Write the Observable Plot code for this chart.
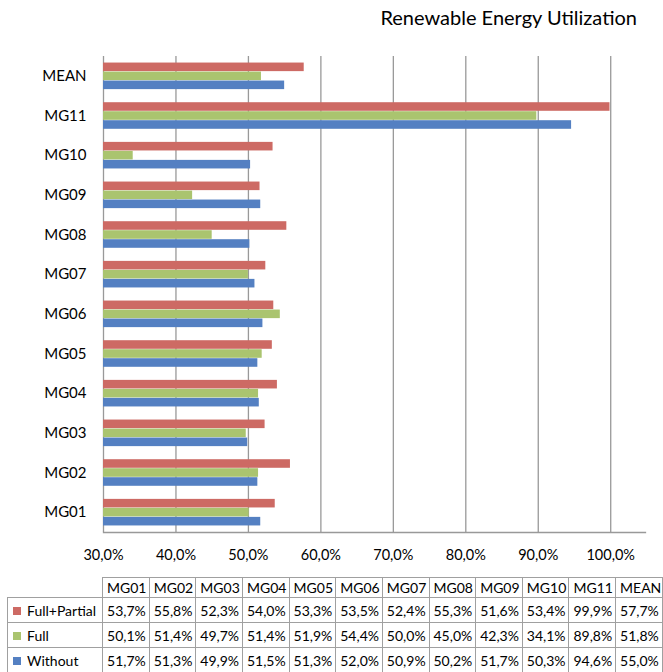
<!DOCTYPE html>
<html>
<head>
<meta charset="utf-8">
<script src="https://cdn.jsdelivr.net/npm/d3@7"></script>
<script src="https://cdn.jsdelivr.net/npm/@observablehq/plot@0.6"></script>
<style>
  html, body { margin: 0; padding: 0; background: #fff; }
  #wrap { position: relative; width: 663px; height: 672px; overflow: hidden; font-family: Lato, "DejaVu Sans", sans-serif; }
  #title { position: absolute; top: 5px; right: 26px; font-size: 20px; color: #000; white-space: nowrap; }
  #chart { position: absolute; top: 0; left: 0; }
  #tbl { position: absolute; top: 577px; left: 7px; border-collapse: collapse; font-size: 14px; color: #000; table-layout: fixed; }
  #tbl td { border: 1px solid #a0a0a0; padding: 0 0 0 4px; white-space: nowrap; overflow: hidden; }
  #tbl tr.head td { height: 19px; }
  #tbl tr.row td { height: 24px; }
  #tbl td.blank { border: none; }
  .sw { display: inline-block; width: 8px; height: 8px; margin-right: 6px; margin-left: 1px; vertical-align: 1px; }
</style>
</head>
<body>
<div id="wrap">
  <div id="chart"></div>
  <div id="title">Renewable Energy Utilization</div>
  <table id="tbl"></table>
</div>
<script>
const categories = ["MG01","MG02","MG03","MG04","MG05","MG06","MG07","MG08","MG09","MG10","MG11","MEAN"];
const seriesNames = ["Full+Partial","Full","Without"];
const fullPartial = [53.7,55.8,52.3,54.0,53.3,53.5,52.4,55.3,51.6,53.4,99.9,57.7];
const full        = [50.1,51.4,49.7,51.4,51.9,54.4,50.0,45.0,42.3,34.1,89.8,51.8];
const without     = [51.7,51.3,49.9,51.5,51.3,52.0,50.9,50.2,51.7,50.3,94.6,55.0];
const xTicks = [30,40,50,60,70,80,90,100];
const seriesColors = ["#CD6A64","#AAC46F","#5480C2"];

const seriesValues = [fullPartial, full, without];
const fmt = v => v.toFixed(1).replace(".", ",") + "%";
const xMin = xTicks[0];

const data = [];
seriesNames.forEach((s, si) => categories.forEach((c, ci) => data.push({series: s, category: c, value: seriesValues[si][ci]})));

const bandInsets = [[0, 18], [9, 9], [18, 0]];

const chart = Plot.plot({
  width: 663,
  height: 570,
  marginLeft: 103,
  marginRight: 18,
  marginTop: 56,
  marginBottom: 38,
  style: {fontFamily: "Lato, 'DejaVu Sans', sans-serif", fontSize: "14.5px", color: "#000", background: "#fff"},
  x: {domain: [30, 104.8], ticks: xTicks, tickFormat: fmt, tickSize: 0, tickPadding: 17, label: null},
  y: {domain: categories.slice().reverse(), paddingInner: 0.33, paddingOuter: 0.165, round: false, tickSize: 0, tickPadding: 17, label: null},
  marks: [
    Plot.ruleX(xTicks, {stroke: "#999", strokeWidth: 1.3}),
    Plot.frame({anchor: "bottom", stroke: "#999", strokeWidth: 1.3}),
    ...seriesNames.map((s, si) => Plot.barX(data.filter(d => d.series === s), {
      y: "category",
      x1: xMin,
      x2: "value",
      fill: seriesColors[si],
      insetTop: bandInsets[si][0],
      insetBottom: bandInsets[si][1]
    }))
  ]
});
chart.querySelectorAll('g[aria-label="y-axis tick label"]').forEach(el => el.style.fontSize = "15px");
document.getElementById("chart").appendChild(chart);

// table
const tbl = document.getElementById("tbl");
const colgroup = document.createElement("colgroup");
const c0 = document.createElement("col"); c0.style.width = "96px"; colgroup.appendChild(c0);
categories.forEach(() => { const c = document.createElement("col"); c.style.width = "47px"; colgroup.appendChild(c); });
tbl.appendChild(colgroup);
const head = document.createElement("tr"); head.className = "head";
const blank = document.createElement("td"); blank.className = "blank"; head.appendChild(blank);
categories.forEach(c => { const td = document.createElement("td"); td.textContent = c; head.appendChild(td); });
tbl.appendChild(head);
seriesNames.forEach((s, si) => {
  const tr = document.createElement("tr"); tr.className = "row";
  const lab = document.createElement("td");
  const sw = document.createElement("span"); sw.className = "sw"; sw.style.background = seriesColors[si];
  lab.appendChild(sw); lab.appendChild(document.createTextNode(s));
  tr.appendChild(lab);
  seriesValues[si].forEach(v => { const td = document.createElement("td"); td.textContent = fmt(v); tr.appendChild(td); });
  tbl.appendChild(tr);
});
</script>
</body>
</html>
